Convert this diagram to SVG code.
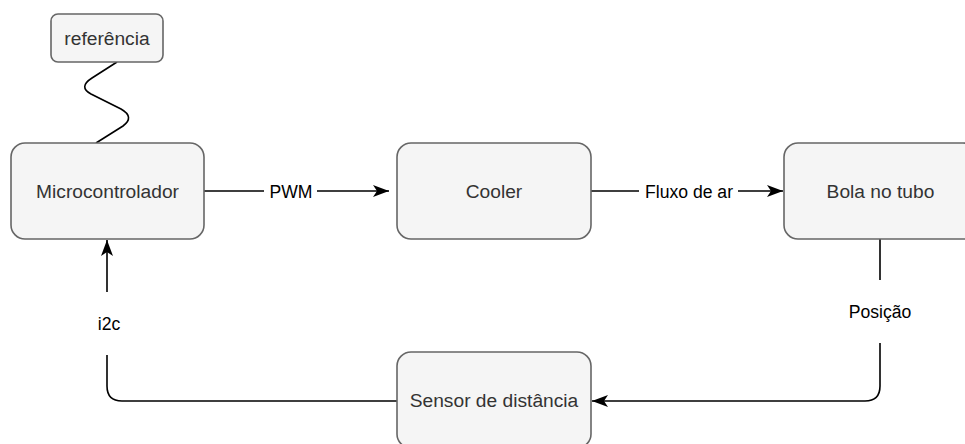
<svg xmlns="http://www.w3.org/2000/svg" width="965" height="444" viewBox="0 0 965 444">
<style>
.box{fill:#f5f5f5;stroke:#666666;stroke-width:1.6}
.nt{font-family:"Liberation Sans",Arial,sans-serif;font-size:19.2px;fill:#333333;text-anchor:middle}
.lt{font-family:"Liberation Sans",Arial,sans-serif;font-size:17.6px;fill:#000000;text-anchor:middle}
.ln{fill:none;stroke:#000000;stroke-width:1.6}
</style>
<defs>
<marker id="arr" markerUnits="userSpaceOnUse" markerWidth="17" markerHeight="13" refX="16" refY="6.5" orient="auto">
<path d="M0,0.5 L16,6.5 L0,12.5 L4,6.5 z" fill="#000000"/>
</marker>
</defs>
<rect width="965" height="444" fill="#ffffff"/>
<g id="connectors">
<path class="ln" d="M117,62 L92,78 Q78,87 91,94 L121,109 Q135,117 123,126 L96,143"/>
<path class="ln" d="M204,191 L264,191 M317,191 L389,191" marker-end="url(#arr)"/>
<path class="ln" d="M591,191 L639,191 M738,191 L783,191" marker-end="url(#arr)"/>
<path class="ln" d="M880,239 L880,280 M880,343 L880,386 Q880,401 865,401 L592,401" marker-end="url(#arr)"/>
<path class="ln" d="M397,401 L122,401 Q107,401 107,386 L107,355 M107,292 L107,240" marker-end="url(#arr)"/>
<text class="lt" x="291" y="197.5">PWM</text>
<text class="lt" x="689" y="197.5">Fluxo de ar</text>
<text class="lt" x="880" y="318">Posição</text>
<text class="lt" x="109" y="329.5">i2c</text>
</g>
<g id="referencia">
<rect class="box" x="51" y="14" width="112" height="48" rx="7"/>
<text class="nt" x="107" y="44.5">referência</text>
</g>
<g id="microcontrolador">
<rect class="box" x="11" y="143" width="193" height="96" rx="14"/>
<text class="nt" x="107.5" y="197.5">Microcontrolador</text>
</g>
<g id="cooler">
<rect class="box" x="397" y="143" width="194" height="96" rx="14"/>
<text class="nt" x="494" y="197.5">Cooler</text>
</g>
<g id="bola">
<rect class="box" x="784" y="143" width="193" height="96" rx="14"/>
<text class="nt" x="880.5" y="197.5">Bola no tubo</text>
</g>
<g id="sensor">
<rect class="box" x="397" y="352" width="194" height="96" rx="14"/>
<text class="nt" x="494" y="407">Sensor de distância</text>
</g>
</svg>
